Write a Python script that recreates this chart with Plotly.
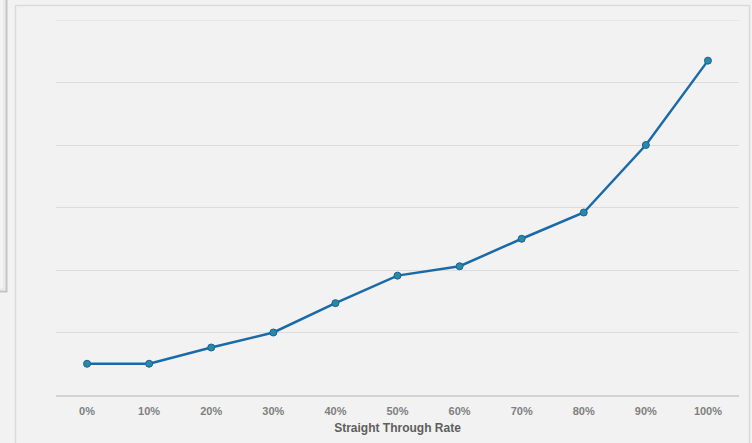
import plotly.graph_objects as go

categories = ["0%", "10%", "20%", "30%", "40%", "50%", "60%", "70%", "80%", "90%", "100%"]
values = [0.5, 0.5, 0.76, 1.0, 1.47, 1.91, 2.06, 2.5, 2.92, 4.0, 5.35]
y_max = 6
x_title = "Straight Through Rate"

W, H = 752, 443
L, R, T, B = 56, 739, 20, 395

def px(x):
    return (x - L) / (R - L)

def py(y):
    return (B - y) / (B - T)

fig = go.Figure()
fig.add_trace(go.Scatter(
    x=categories, y=values, mode="lines+markers",
    line=dict(color="#1b6aa8", width=2.5),
    marker=dict(size=7, color="#2a8aa6", line=dict(color="#1b5f96", width=1)),
    showlegend=False,
))

shapes = []
# top gridline (at the plot edge)
shapes.append(dict(type="line", xref="paper", yref="y", x0=0, x1=1, y0=y_max, y1=y_max, line=dict(color="#dcdcdc", width=1.2), layer="below"))
# outer chart frame
frame_col = "#dadada"
shapes.append(dict(type="line", xref="paper", yref="paper", x0=px(15.5), x1=px(15.5), y0=py(5), y1=py(460), line=dict(color=frame_col, width=1.5)))
shapes.append(dict(type="line", xref="paper", yref="paper", x0=px(15.5), x1=px(749.5), y0=py(5.5), y1=py(5.5), line=dict(color=frame_col, width=1.5)))
shapes.append(dict(type="line", xref="paper", yref="paper", x0=px(749.5), x1=px(749.5), y0=py(5), y1=py(460), line=dict(color=frame_col, width=1.5)))
# partial side panel on the left
shapes.append(dict(type="rect", xref="paper", yref="paper", x0=px(-5), x1=px(6.5), y0=py(-5), y1=py(291.5), line=dict(color="#c4c4c4", width=2), fillcolor="#f3f3f3"))
shapes.append(dict(type="rect", xref="paper", yref="paper", x0=px(-5), x1=px(4), y0=py(-5), y1=py(289), line=dict(color="#e2e2e2", width=1), fillcolor="rgba(0,0,0,0)"))

fig.update_layout(
    width=W, height=H,
    margin=dict(l=L, r=W - R, t=T, b=H - B),
    paper_bgcolor="#f2f2f2", plot_bgcolor="#f2f2f2",
    font=dict(family="Liberation Sans, Arial, sans-serif"),
    shapes=shapes,
    xaxis=dict(
        type="category", range=[-0.5, 10.5], automargin=False,
        showgrid=False, zeroline=False,
        showline=True, linecolor="#d3d3d3", linewidth=1.5,
        ticks="", ticklabelstandoff=5,
        tickfont=dict(size=11, color="#7f7f7f", family="Liberation Sans, Arial, sans-serif", weight="bold"),
        title=dict(text=x_title, font=dict(size=12, color="#5e5e5e", weight="bold"), standoff=8),
    ),
    yaxis=dict(
        range=[0, y_max], dtick=1, showticklabels=False, automargin=False,
        showgrid=True, gridcolor="#dcdcdc", gridwidth=1.2,
        zeroline=False, showline=False, ticks="",
    ),
)

fig.write_html("out.html")
